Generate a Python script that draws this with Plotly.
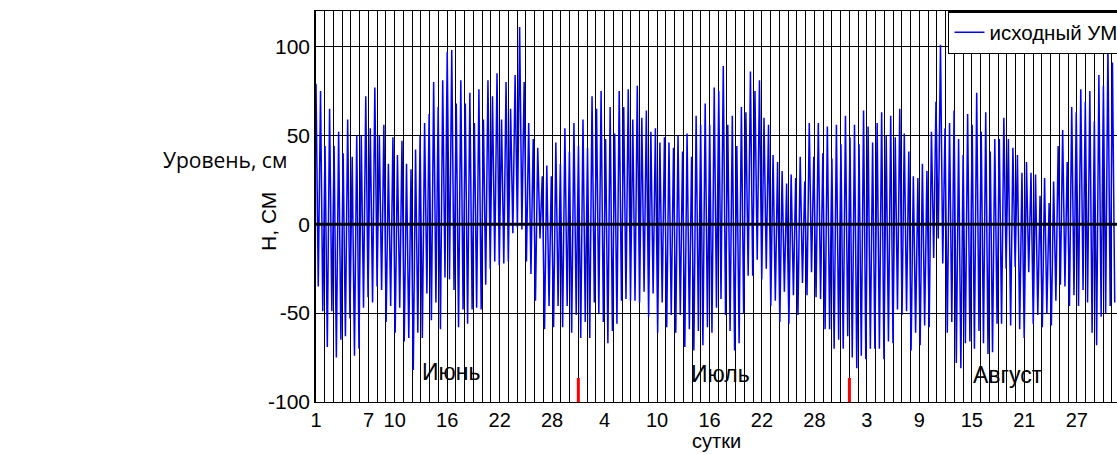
import plotly.graph_objects as go

# --- data: alternating high / low water extremes (cm) ---
highs_1 = [79, 75, 44, 65, 44, 52, 40, 59, 38, 50, 50, 72, 54, 77, 50, 56, 34, 49, 39, 47, 34, 31, 42, 50, 57, 62, 80, 66, 81, 97]
lows_1 = [-35, -49, -69, -49, -75, -65, -63, -53, -74, -70, -47, -41, -44, -35, -37, -55, -46, -61, -47, -66, -64, -82, -61, -64, -39, -54, -44, -59, -30, -31]
highs_2 = [98, 68, 81, 68, 74, 57, 76, 59, 81, 72, 85, 59, 80, 65, 84, 111, 80, 57, 48, 43, 27, 33, 27, 46, 34, 54, 41, 57, 44]
lows_2 = [-37, -58, -48, -56, -48, -47, -48, -34, -25, -21, -23, -22, -21, -5, -2, -3, -21, -28, -43, -8, -59, -46, -58, -46, -58, -46, -61, -51, -64]
highs_3 = [59, 43, 72, 65, 75, 48, 66, 51, 75, 66, 76, 59, 78, 60, 64, 52, 54, 46, 49, 46, 43, 50, 41, 51, 38, 61, 56, 68, 56, 77]
lows_3 = [-55, -64, -44, -50, -55, -67, -60, -56, -43, -42, -43, -43, -44, -38, -52, -39, -61, -44, -58, -51, -61, -51, -69, -59, -71, -60, -68, -58, -61]
highs_4 = [75, 89, 56, 61, 44, 66, 63, 86, 75, 81, 60, 56, 39, 35, 30, 23, 28, 26, 38, 24, 57, 38, 57, 40, 55, 37, 56, 45, 61]
lows_4 = [-47, -42, -51, -60, -71, -67, -50, -29, -29, -20, -31, -25, -46, -43, -55, -38, -56, -40, -51, -33, -40, -27, -41, -42, -59, -59, -70, -65, -70, -63]
highs_5 = [49, 56, 45, 64, 55, 46, 57, 63, 50, 61, 49, 65, 51, 41, 27, 26, 34, 30, 52, 69, 101, 54, 57, 64, 48, 39, 62, 56, 74]
lows_5 = [-75, -81, -74, -76, -70, -70, -70, -76, -66, -67, -48, -51, -49, -71, -61, -68, -57, -58, -19, -8, -22, -61, -55, -78, -81, -67, -66, -70, -60]
highs_6 = [52, 63, 41, 48, 48, 60, 48, 43, 39, 29, 35, 29, 28, 16, 26, 12, 24, 44, 53, 35, 66, 63, 76, 69, 75, 58, 84, 78, 100, 91]
lows_6 = [-67, -73, -72, -56, -56, -25, -57, -24, -59, -64, -27, -56, -51, -58, -50, -57, -43, -34, -35, -46, -40, -46, -37, -44, -61, -68, -52, -50, -46, -44]

tick_days = [1, 7, 10, 16, 22, 28, 34, 40, 46, 52, 58, 64, 70, 76, 82, 88]
tick_text = ["1", "7", "10", "16", "22", "28", "4", "10", "16", "22", "28", "3", "9", "15", "21", "27"]
y_ticks = [-100, -50, 0, 50, 100]
y_tick_text = ["-100", "-50", "0", "50", "100"]
month_starts = [31, 62]
month_names = ["Июнь", "Июль", "Август"]
month_label_days = [16.4, 47.3, 80.1]
month_label_levels = [-83, -84, -85]

T0 = 1.0
STEP = 12.42 / 24 / 2  # half tidal cycle between extremes (days)


def interleave(first, second):
    out = []
    n = max(len(first), len(second))
    for i in range(n):
        if i < len(first):
            out.append(first[i])
        if i < len(second):
            out.append(second[i])
    return out


level = []
level += interleave(highs_1, lows_1)
level += interleave(highs_2, lows_2)
level += interleave(highs_3, lows_3)
level += interleave(lows_4, highs_4)  # segment starts with a low
level += interleave(highs_5, lows_5)
level += interleave(highs_6, lows_6)
days = [T0 + i * STEP for i in range(len(level))]

FONT = "Liberation Sans, Arial, sans-serif"

fig = go.Figure()
fig.add_trace(go.Scatter(x=days, y=level, mode="lines", name="исходный УМ",
                         line=dict(color="#0000FF", width=1.5)))

# zero line over the data
fig.add_shape(type="line", xref="paper", x0=0, x1=1, y0=0, y1=0,
              line=dict(color="black", width=3), layer="above")
# month boundary marks
for m in month_starts:
    fig.add_shape(type="line", x0=m, x1=m, y0=-100, y1=-86.5,
                  line=dict(color="red", width=3), layer="above")
for name, d, lv in zip(month_names, month_label_days, month_label_levels):
    fig.add_annotation(x=d, y=lv, text=name, showarrow=False,
                       font=dict(family=FONT, size=23, color="black"))

fig.add_annotation(xref="paper", yref="paper", x=-0.1136, y=0.619, xanchor="center",
                   yanchor="middle", text="Уровень, см", showarrow=False,
                   font=dict(family="Open Sans, Noto Sans, sans-serif", size=21, color="black"))
# y-axis title
fig.add_annotation(xref="paper", yref="paper", x=-0.0587, y=0.463, xanchor="center",
                   yanchor="middle", text="Н, СМ", textangle=-90, showarrow=False,
                   font=dict(family=FONT, size=21, color="black"))
# x-axis title
fig.add_annotation(xref="paper", yref="paper", x=0.5, y=-0.133, xanchor="center",
                   yanchor="bottom", text="сутки", showarrow=False,
                   font=dict(family=FONT, size=20, color="black"))

fig.update_layout(
    width=1117, height=454,
    margin=dict(l=316, r=0, t=11, b=52, autoexpand=False),
    paper_bgcolor="white", plot_bgcolor="white",
    font=dict(family=FONT, size=21, color="black"),
    showlegend=True,
    legend=dict(x=0.789, y=1, xanchor="left", yanchor="top",
                bgcolor="white", bordercolor="black", borderwidth=1.5,
                font=dict(family=FONT, size=20.5, color="black"),
                tracegroupgap=0, itemwidth=30),
)
fig.update_xaxes(
    range=[1, 92.6], tickmode="array", tickvals=tick_days, ticktext=tick_text,
    tickfont=dict(family=FONT, size=20),
    showgrid=True, gridcolor="black", gridwidth=1,
    minor=dict(tick0=1, dtick=1, showgrid=True, gridcolor="black", gridwidth=1),
    showline=True, linecolor="black", linewidth=1, mirror=True,
    ticks="", zeroline=False,
)
fig.update_yaxes(
    range=[-100, 120], tickmode="array", tickvals=y_ticks, ticktext=y_tick_text,
    tickfont=dict(family=FONT, size=21),
    showgrid=True, gridcolor="black", gridwidth=1,
    showline=True, linecolor="black", linewidth=1.5, mirror=True,
    ticks="", zeroline=False,
)

fig.write_html("out.html")
